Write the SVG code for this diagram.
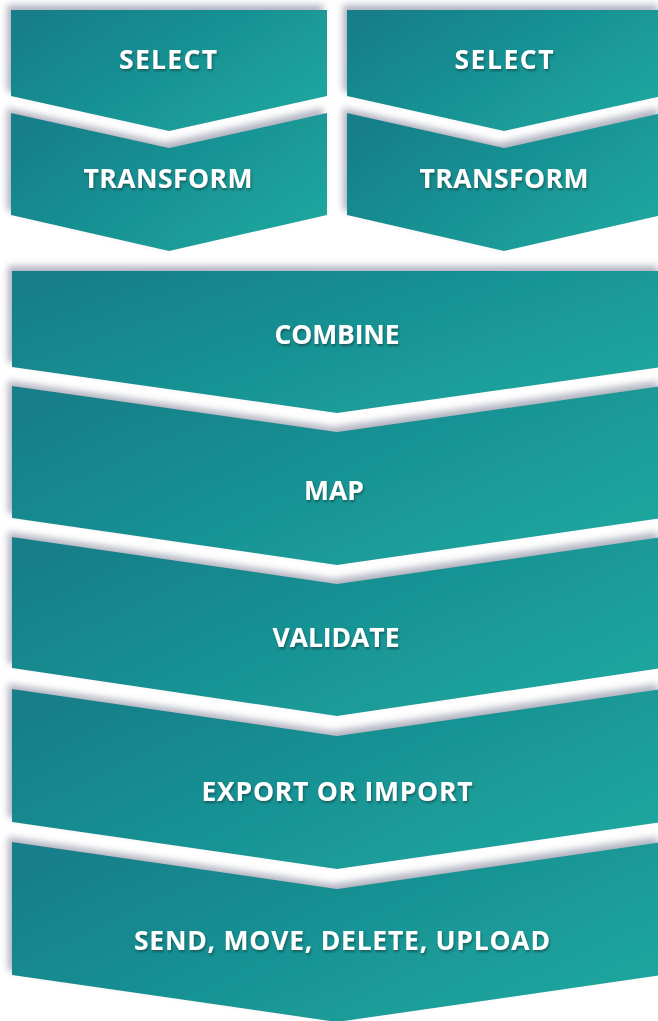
<svg xmlns="http://www.w3.org/2000/svg" width="658" height="1021" viewBox="0 0 658 1021">
  <defs>
    <linearGradient id="teal" x1="0" y1="0.2" x2="1" y2="0.8">
      <stop offset="0" stop-color="#167f89"/>
      <stop offset="1" stop-color="#1ca79f"/>
    </linearGradient>
    <filter id="shadow" x="-10%" y="-20%" width="120%" height="140%">
      <feDropShadow dx="-4" dy="-5" stdDeviation="3.5" flood-color="#8f93a6" flood-opacity="0.7"/>
    </filter>
    <filter id="tshadow" x="-10%" y="-40%" width="120%" height="180%">
      <feDropShadow dx="1" dy="2" stdDeviation="1.3" flood-color="#083a3e" flood-opacity="0.6"/>
    </filter>
  </defs>
  <style>
    .shape { fill: url(#teal); filter: url(#shadow); }
    .label { font-family: "Open Sans", "Noto Sans", "Liberation Sans", sans-serif; font-weight: 700; font-size: 26.5px; fill: #ffffff; text-anchor: middle; filter: url(#tshadow); }
  </style>
  <rect width="658" height="1021" fill="#ffffff"/>

  <g id="select-left">
    <polygon class="shape" points="11,10 327,10 327,96 169,131 11,96"/>
    <text class="label" x="168" y="69" textLength="98" lengthAdjust="spacing">SELECT</text>
  </g>
  <g id="transform-left">
    <polygon class="shape" points="11,113 169,148 327,113 327,215 169,251 11,215"/>
    <text class="label" x="168" y="188" textLength="169" lengthAdjust="spacing">TRANSFORM</text>
  </g>
  <g id="select-right">
    <polygon class="shape" points="347,10 662,10 662,96 504,131 347,96"/>
    <text class="label" x="504" y="69" textLength="99" lengthAdjust="spacing">SELECT</text>
  </g>
  <g id="transform-right">
    <polygon class="shape" points="347,113 504,148 662,113 662,215 504,251 347,215"/>
    <text class="label" x="504" y="188" textLength="169" lengthAdjust="spacing">TRANSFORM</text>
  </g>

  <g id="combine">
    <polygon class="shape" points="12,271 662,271 662,367 337,413 12,367"/>
    <text class="label" x="337" y="344" textLength="125" lengthAdjust="spacing">COMBINE</text>
  </g>
  <g id="map">
    <polygon class="shape" points="12,386 337,432 662,386 662,518 337,565 12,518"/>
    <text class="label" x="334" y="500">MAP</text>
  </g>
  <g id="validate">
    <polygon class="shape" points="12,537 337,584 662,537 662,668 337,716 12,668"/>
    <text class="label" x="336" y="647" textLength="127" lengthAdjust="spacing">VALIDATE</text>
  </g>
  <g id="export-or-import">
    <polygon class="shape" points="12,689 337,736 662,689 662,822 337,869 12,822"/>
    <text class="label" x="337" y="801" textLength="271" lengthAdjust="spacing">EXPORT OR IMPORT</text>
  </g>
  <g id="send-move-delete-upload">
    <polygon class="shape" points="12,842 337,889 662,842 662,975 337,1022 12,975"/>
    <text class="label" x="342" y="950" textLength="416" lengthAdjust="spacing">SEND, MOVE, DELETE, UPLOAD</text>
  </g>

  <g id="connectors"/>
</svg>
